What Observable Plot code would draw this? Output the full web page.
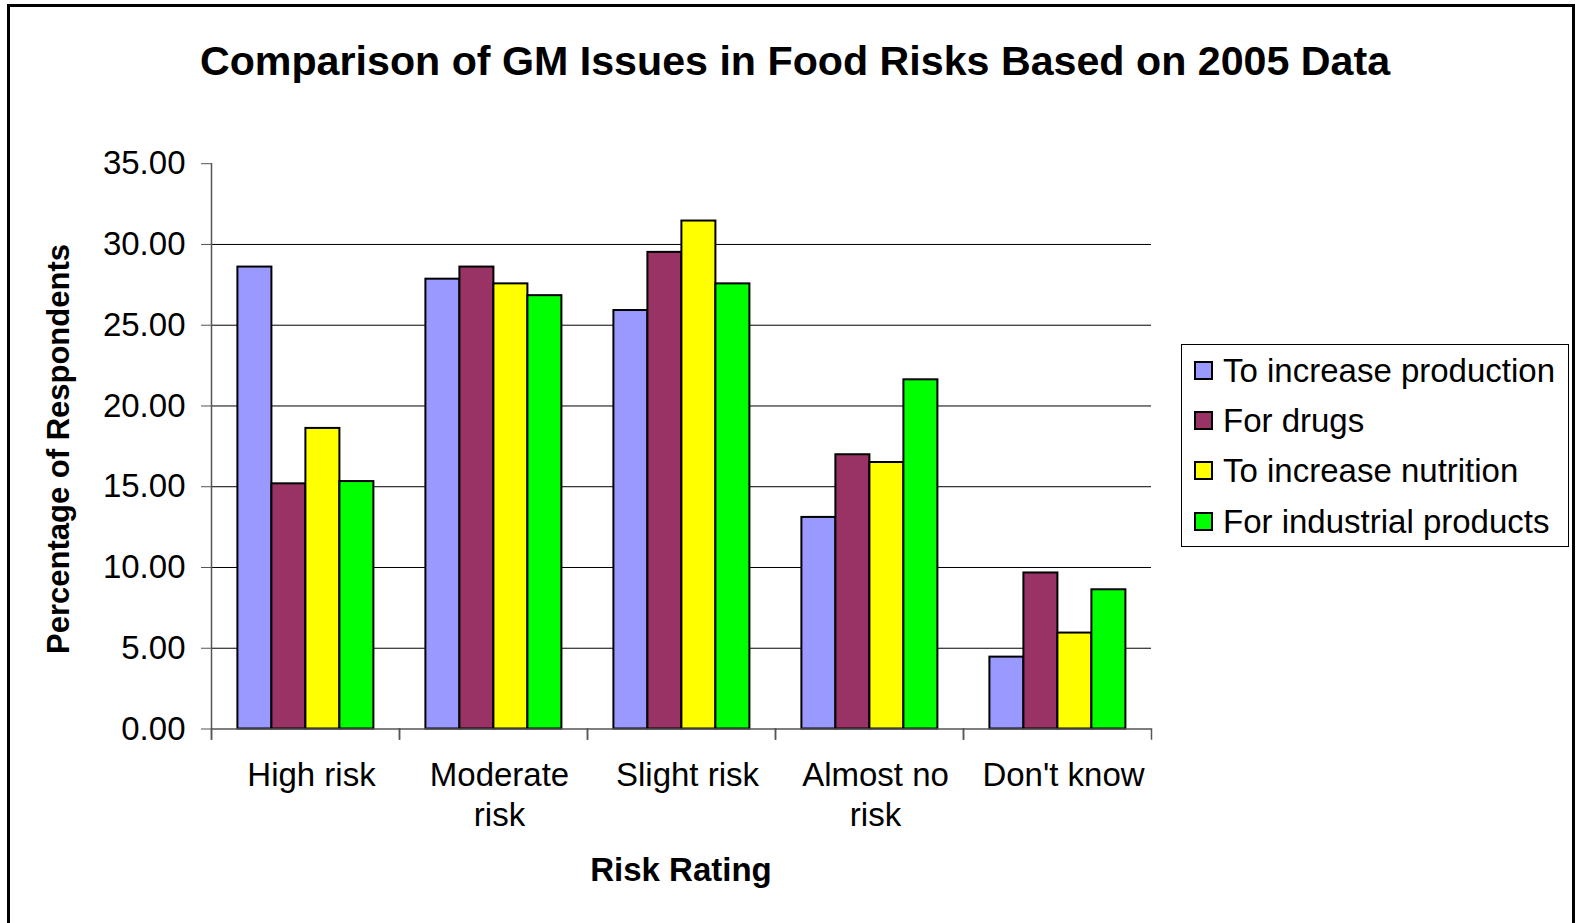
<!DOCTYPE html>
<html>
<head>
<meta charset="utf-8">
<script src="https://cdn.jsdelivr.net/npm/d3@7"></script>
<script src="https://cdn.jsdelivr.net/npm/@observablehq/plot@0.6"></script>
<style>
  html, body { margin: 0; padding: 0; background: #fff; }
  #wrap { position: relative; width: 1580px; height: 923px; overflow: hidden; font-family: "Liberation Sans", Arial, sans-serif; color: #000; }
  #border { position: absolute; left: 7px; top: 4px; width: 1568px; height: 940px; border: 3px solid #000; box-sizing: border-box; }
  #chart { position: absolute; left: 0; top: 0; }
  #title { position: absolute; left: 0; width: 1590px; top: 41px; text-align: center; font-weight: bold; font-size: 41.2px; line-height: 41.2px; white-space: nowrap; }
  #xtitle { position: absolute; left: 0; width: 1362px; top: 853px; text-align: center; font-weight: bold; font-size: 33px; line-height: 33px; white-space: nowrap; }
  #ytitle { position: absolute; left: 58px; top: 449px; width: 0; height: 0; }
  #ytitle span { position: absolute; left: 0; top: 0; transform: translate(-50%, -50%) rotate(-90deg); font-weight: bold; font-size: 31px; line-height: 31px; white-space: nowrap; }
  #legend { position: absolute; left: 1181px; top: 344px; width: 388px; height: 203px; border: 1px solid #000; box-sizing: border-box; background: #fff; padding-top: 0px; }
  .row { height: 50.4px; display: flex; align-items: center; }
  .sw { width: 15px; height: 15px; border: 2px solid #000; margin-left: 12px; margin-right: 10px; flex: none; }
  .lab { font-size: 33px; line-height: 33px; white-space: nowrap; }
</style>
</head>
<body>
<div id="wrap">
  <div id="border"></div>
  <div id="chart"></div>
  <div id="title"></div>
  <div id="ytitle"><span></span></div>
  <div id="xtitle"></div>
  <div id="legend"></div>
</div>
<script>
// ---- data ----
const chartTitle = "Comparison of GM Issues in Food Risks Based on 2005 Data";
const xTitle = "Risk Rating";
const yTitle = "Percentage of Respondents";
const categories = ["High risk", "Moderate risk", "Slight risk", "Almost no risk", "Don't know"];
const categoryLabels = ["High risk", "Moderate\nrisk", "Slight risk", "Almost no\nrisk", "Don't know"];
const series = ["To increase production", "For drugs", "To increase nutrition", "For industrial products"];
const seriesColors = ["#9999FF", "#993366", "#FFFF00", "#00FF00"];
const increaseProduction = [28.60, 27.85, 25.91, 13.10, 4.45];
const forDrugs = [15.18, 28.60, 29.51, 16.98, 9.66];
const increaseNutrition = [18.61, 27.56, 31.45, 16.50, 5.94];
const industrialProducts = [15.32, 26.83, 27.56, 21.62, 8.62];
const yTicks = [0, 5, 10, 15, 20, 25, 30, 35];
const gridTicks = [5, 10, 15, 20, 25, 30];

// ---- build table ----
const seriesValues = [increaseProduction, forDrugs, increaseNutrition, industrialProducts];
const rows = [];
categories.forEach((c, i) => {
  series.forEach((s, j) => rows.push({category: c, series: s, value: seriesValues[j][i]}));
});

// ---- layout ----
const W = 1580, H = 923;
const mLeft = 209.6, mRight = 427.2, mTop = 163.2, mBottom = 194.5;
const plotH = H - mTop - mBottom;

const chart = Plot.plot({
  width: W,
  height: H,
  marginLeft: mLeft,
  marginRight: mRight,
  marginTop: mTop,
  marginBottom: mBottom,
  style: {fontFamily: "'Liberation Sans', Arial, sans-serif", fontSize: "33px", color: "#000", background: "transparent", overflow: "visible"},
  fx: {domain: categories, padding: 0},
  x: {domain: series, paddingInner: 0, paddingOuter: 0.73, axis: null},
  y: {domain: [0, 35]},
  color: {domain: series, range: seriesColors},
  marks: [
    Plot.ruleY(gridTicks, {stroke: "#000", strokeWidth: 1}),
    Plot.barY(rows, {fx: "category", x: "series", y: "value", fill: "series", stroke: "#000", strokeWidth: 2}),
    Plot.ruleY([0], {stroke: "#555", strokeWidth: 1.5}),
    Plot.frame({anchor: "left", facetAnchor: "left", stroke: "#555", strokeWidth: 1.5, insetBottom: -10}),
    Plot.frame({anchor: "left", stroke: "#555", strokeWidth: 1.5, insetTop: plotH, insetBottom: -10}),
    Plot.frame({anchor: "right", stroke: "#555", strokeWidth: 1.5, insetTop: plotH, insetBottom: -10}),
    Plot.axisY({ticks: yTicks, tickFormat: d3.format(".2f"), tickSize: 10, tickPadding: 16, stroke: "#555", label: null, fontSize: 33}),
    Plot.axisFx({anchor: "bottom", tickSize: 0, tickPadding: 29, label: null, fontSize: 33, lineHeight: 1.2, dx: 6,
      tickFormat: d => categoryLabels[categories.indexOf(d)]})
  ]
});
document.getElementById("chart").appendChild(chart);

document.getElementById("title").textContent = chartTitle;
document.getElementById("xtitle").textContent = xTitle;
document.querySelector("#ytitle span").textContent = yTitle;

const legend = document.getElementById("legend");
series.forEach((s, j) => {
  const row = document.createElement("div");
  row.className = "row";
  const sw = document.createElement("div");
  sw.className = "sw";
  sw.style.background = seriesColors[j];
  const lab = document.createElement("div");
  lab.className = "lab";
  lab.textContent = s;
  row.appendChild(sw);
  row.appendChild(lab);
  legend.appendChild(row);
});
</script>
</body>
</html>
